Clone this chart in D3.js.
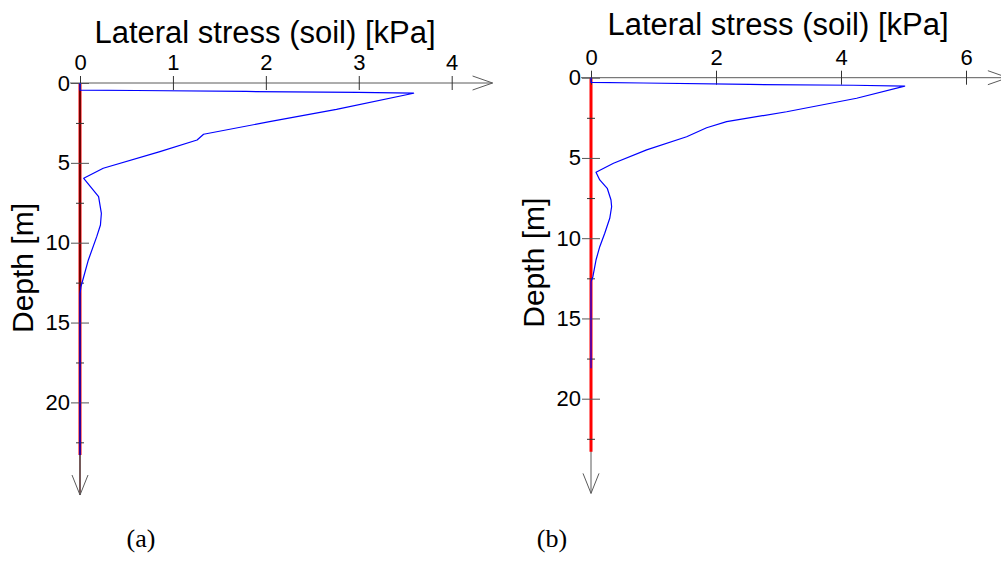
<!DOCTYPE html>
<html>
<head>
<meta charset="utf-8">
<script src="https://cdn.jsdelivr.net/npm/d3@7"></script>
<style>
  body { margin: 0; background: #fff; }
  svg { display: block; }
</style>
</head>
<body>
<svg id="chart" width="1001" height="568"></svg>
<script>
// Depth axis ticks (m)
const depthTicks = [0, 5, 10, 15, 20];
const depthMinorTicks = [2.5, 7.5, 12.5, 17.5, 22.5];

// Stress axis ticks (kPa) for each case
const stressTicksA = [0, 1, 2, 3, 4];
const stressTicksB = [0, 2, 4, 6];

// Pile length (m), drawn as the red line along the depth axis
const pileDepth = 23.3;

// Case (a): lateral soil stress profile
const depthA  = [0, 0.44, 0.47, 0.53, 0.59, 0.64, 1.65, 2.42, 3.21, 3.57, 4.30, 5.34, 5.97, 7.12, 8.16, 8.89, 9.62, 11.08, 12.13, 12.76, 13.2, 23.3];
const stressA = [0, 0,    0.60, 1.79, 2.99, 3.59, 2.76, 2.04, 1.33, 1.26, 0.86, 0.25, 0.04, 0.20, 0.23, 0.22, 0.18, 0.09,  0.04,  0.01,  0,    0];

// Case (b): lateral soil stress profile
const depthB  = [0, 0.29, 0.33, 0.42, 0.47, 0.52, 1.28, 2.12, 2.74, 3.12, 3.68, 4.50, 5.33, 5.89, 6.37, 6.89, 7.62, 8.04, 8.76, 9.69, 10.53, 11.36, 12.4, 12.7, 18.1];
const stressB = [0, 0,    0.84, 2.54, 4.20, 5.02, 4.25, 3.13, 2.17, 1.85, 1.53, 0.89, 0.36, 0.08, 0.14, 0.26, 0.32, 0.33, 0.30, 0.22, 0.14,  0.08,  0.03, 0,    0];

const titleText = "Lateral stress (soil) [kPa]";
const depthLabel = "Depth [m]";
const captions = ["(a)", "(b)"];

const svg = d3.select("#chart");
const SANS = "'Liberation Sans', Arial, sans-serif";
const SERIF = "'Liberation Serif', 'Times New Roman', serif";

function drawPanel(cfg) {
  const g = svg.append("g");
  const x = d3.scaleLinear().domain([0, cfg.ticks[cfg.ticks.length - 1]]).range([cfg.x0, cfg.x1]);
  const y = d3.scaleLinear().domain([0, 20]).range([cfg.y0, cfg.y1]);

  const axisColor = "#5a5a5a";
  const tipX = x(cfg.xTip);
  const tipY = y(cfg.yTip);

  // pile (red) and depth axis
  const pileLine = () => g.append("line")
    .attr("x1", x(0)).attr("x2", x(0))
    .attr("y1", y(0)).attr("y2", y(pileDepth))
    .attr("stroke", "#ff0000").attr("stroke-width", 3);
  const depthAxisLine = (color, w) => g.append("line")
    .attr("x1", x(0)).attr("x2", x(0))
    .attr("y1", y(0)).attr("y2", tipY)
    .attr("stroke", color).attr("stroke-width", w);

  if (cfg.axisOverPile) { pileLine(); depthAxisLine("#2a0000", 1.3); }
  else { depthAxisLine(axisColor, 1); pileLine(); }

  // depth axis arrow head
  g.append("path")
    .attr("d", `M${x(0) - 8},${tipY - 20} L${x(0)},${tipY} L${x(0) + 8},${tipY - 20}`)
    .attr("fill", "none").attr("stroke", axisColor).attr("stroke-width", 1);

  // stress axis line with arrow head
  g.append("line")
    .attr("x1", x(0) - 10).attr("x2", tipX)
    .attr("y1", y(0)).attr("y2", y(0))
    .attr("stroke", axisColor).attr("stroke-width", 1);
  g.append("path")
    .attr("d", `M${tipX - 20},${y(0) - 7} L${tipX},${y(0)} L${tipX - 20},${y(0) + 7}`)
    .attr("fill", "none").attr("stroke", axisColor).attr("stroke-width", 1);

  // stress axis (top)
  const xAxis = g.append("g")
    .attr("transform", `translate(0,${y(0)})`)
    .call(d3.axisTop(x).tickValues(cfg.ticks).tickFormat(d3.format("d")).tickSize(7).tickPadding(6));
  xAxis.select(".domain").remove();
  xAxis.selectAll(".tick line").attr("y1", 7).attr("y2", -7).attr("stroke", "#333");
  xAxis.selectAll(".tick text")
    .attr("font-family", SANS).attr("font-size", 22).attr("fill", "#000");

  // depth axis (left), major ticks with labels
  const yAxis = g.append("g")
    .attr("transform", `translate(${x(0)},0)`)
    .call(d3.axisLeft(y).tickValues(depthTicks).tickFormat(d3.format("d")).tickSize(9).tickPadding(1));
  yAxis.select(".domain").remove();
  yAxis.selectAll(".tick line").attr("x1", 9).attr("x2", -9).attr("stroke", "#555");
  yAxis.selectAll(".tick text")
    .attr("font-family", SANS).attr("font-size", 22).attr("fill", "#000");

  // depth axis minor ticks
  const yMinor = g.append("g")
    .attr("transform", `translate(${x(0)},0)`)
    .call(d3.axisLeft(y).tickValues(depthMinorTicks).tickFormat("").tickSize(4));
  yMinor.select(".domain").remove();
  yMinor.selectAll(".tick line").attr("x1", 4).attr("x2", -4).attr("stroke", "#333");

  // stress profile
  const pts = cfg.depth.map((d, i) => [cfg.stress[i], d]);
  g.append("path")
    .datum(pts)
    .attr("d", d3.line().x(p => x(p[0])).y(p => y(p[1])))
    .attr("fill", "none").attr("stroke", "#0000ff").attr("stroke-width", 1.2)
    .attr("stroke-linejoin", "round");

  // titles
  g.append("text")
    .attr("x", cfg.titleX).attr("y", cfg.titleY)
    .attr("text-anchor", "middle")
    .attr("font-family", SANS).attr("font-size", 31).attr("fill", "#000")
    .text(titleText);

  g.append("text")
    .attr("transform", `translate(${x(0) - 47},${y(0) + 185}) rotate(-90)`)
    .attr("text-anchor", "middle")
    .attr("font-family", SANS).attr("font-size", 30).attr("fill", "#000")
    .text(depthLabel);

  g.append("text")
    .attr("x", cfg.captionX).attr("y", 547)
    .attr("text-anchor", "middle")
    .attr("font-family", SERIF).attr("font-size", 26).attr("fill", "#000")
    .text(cfg.caption);
}

drawPanel({
  ticks: stressTicksA, x0: 80, x1: 451.7, y0: 83, y1: 402.4,
  xTip: 4.44, yTip: 25.8, depth: depthA, stress: stressA,
  axisOverPile: true, titleX: 265, titleY: 43, captionX: 141, caption: captions[0]
});

drawPanel({
  ticks: stressTicksB, x0: 591, x1: 966, y0: 77.7, y1: 398.7,
  xTip: 6.67, yTip: 25.9, depth: depthB, stress: stressB,
  axisOverPile: false, titleX: 778, titleY: 35, captionX: 552, caption: captions[1]
});
</script>
</body>
</html>
